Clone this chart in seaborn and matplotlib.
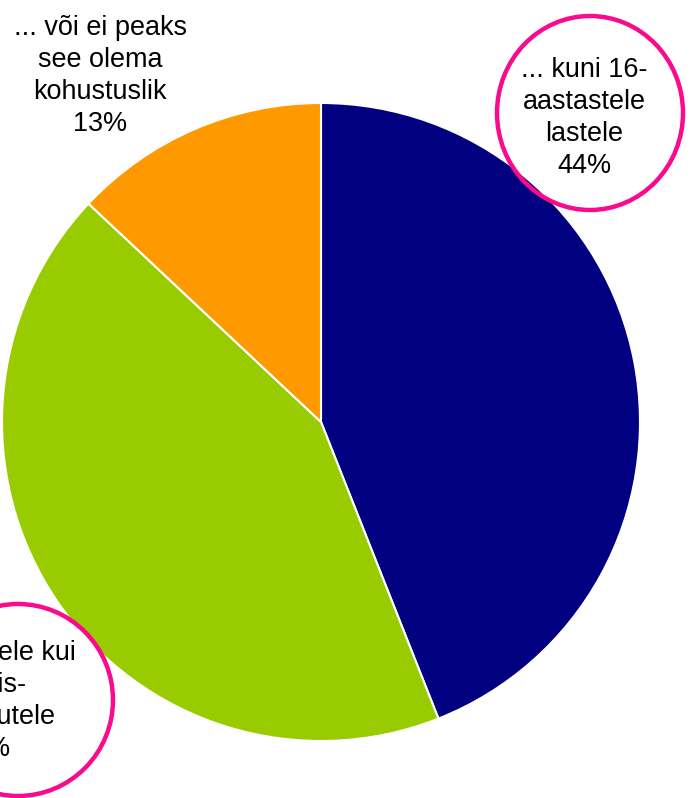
import matplotlib
matplotlib.use("Agg")
import matplotlib.pyplot as plt
from matplotlib.patches import Ellipse
import seaborn as sns

# data
labels = ["... kuni 16-\naastastele\nlastele", "... nii lastele kui\nka täis-\nkasvanutele", "... või ei peaks\nsee olema\nkohustuslik"]
shares = [44, 43, 13]
colors = ["#000080", "#99CC00", "#FF9900"]

W, H = 690, 798
fontsize_px = 27

sns.set_theme(style="white")
plt.rcParams["font.family"] = ["Liberation Sans", "DejaVu Sans"]

fig = plt.figure(figsize=(W / 100, H / 100), dpi=100)
ax = fig.add_axes([0, 0, 1, 1])

palette = sns.color_palette(colors)
ax.pie(
	shares,
	colors=palette,
	startangle=90,
	counterclock=False,
	center=(321, H - 422),
	radius=319,
	wedgeprops={"edgecolor": "white", "linewidth": 1.5},
	frame=True,
)
ax.set_xlim(0, W)
ax.set_ylim(0, H)
ax.set_aspect("equal")
ax.axis("off")

# label positions (pixel coords, y from top)
label_pos = [(584, 118), (-17, 701), (100, 76)]
fs = fontsize_px * 72 / 100
for text, share, (x, y) in zip(labels, shares, label_pos):
	ax.text(
		x, H - y, "%s\n%d%%" % (text, share),
		ha="center", va="center", fontsize=fs,
		linespacing=1.3, color="black", clip_on=False,
	)

# pink highlight rings
pink = "#FA0A8C"
ax.add_patch(Ellipse((590, H - 113), 186, 194, fill=False, edgecolor=pink, linewidth=3.2, clip_on=False))
ax.add_patch(Ellipse((18, H - 700), 190, 192, fill=False, edgecolor=pink, linewidth=3.2, clip_on=False))

fig.savefig("out.png", dpi=100)
